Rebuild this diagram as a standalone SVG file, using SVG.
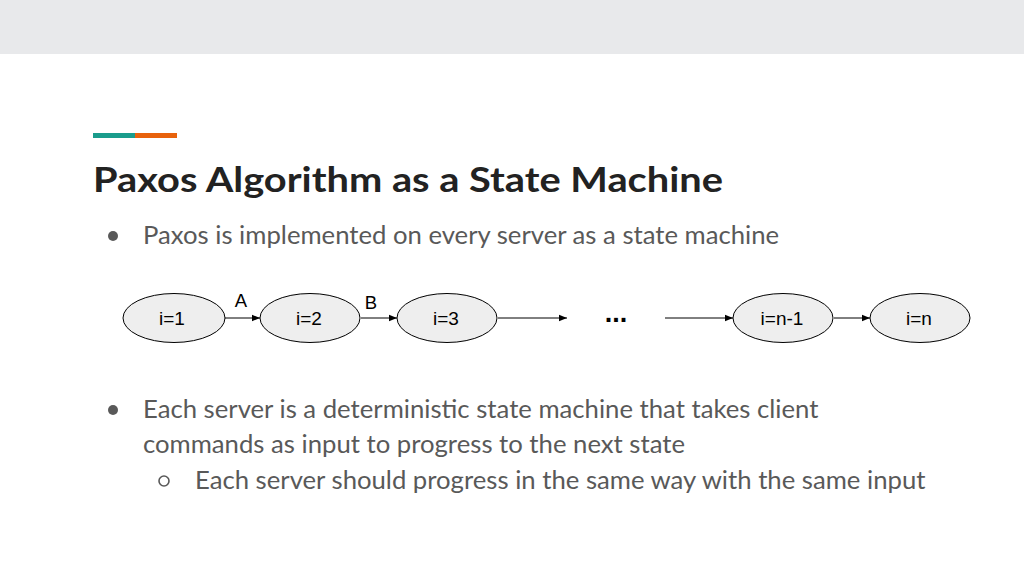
<svg xmlns="http://www.w3.org/2000/svg" width="1024" height="576" viewBox="0 0 1024 576">
<defs>
<marker id="arr" viewBox="0 0 10 10" refX="10" refY="5" markerWidth="9" markerHeight="8" markerUnits="userSpaceOnUse" orient="auto">
<path d="M0,1 L10,5 L0,9 Z" fill="#000"/>
</marker>
<style>
.node ellipse{fill:#eeeeee;stroke:#000;stroke-width:1}
.nt{font-family:"Liberation Sans",Arial,sans-serif;font-size:19px;fill:#000;text-anchor:middle}
.lbl{font-family:"Liberation Sans",Arial,sans-serif;font-size:18.5px;fill:#000;text-anchor:middle}
.body{font-family:Lato,"Open Sans",sans-serif;font-size:25.7px;fill:#595959}
.conn line{stroke:#000;stroke-width:1;marker-end:url(#arr)}
</style>
</defs>
<rect width="1024" height="576" fill="#ffffff"/>
<rect width="1024" height="54" fill="#e8e9eb"/>
<rect x="93" y="133" width="42" height="5" fill="#1a9c8c"/>
<rect x="135" y="133" width="42" height="5" fill="#e8620c"/>
<text x="93" y="192" font-family="Lato,'Open Sans',sans-serif" font-size="35" font-weight="bold" fill="#222" textLength="630" lengthAdjust="spacingAndGlyphs">Paxos Algorithm as a State Machine</text>
<circle cx="113" cy="236" r="5" fill="#595959"/>
<text class="body" x="143" y="244">Paxos is implemented on every server as a state machine</text>
<g id="connectors" class="conn">
<line x1="225" y1="318" x2="260" y2="318"/>
<line x1="361" y1="318" x2="397" y2="318"/>
<line x1="498" y1="318" x2="567" y2="318"/>
<line x1="665" y1="318" x2="733" y2="318"/>
<line x1="834" y1="318" x2="870" y2="318"/>
</g>
<text class="lbl" x="241" y="307">A</text>
<text class="lbl" x="371" y="309">B</text>
<g id="n1" class="node"><ellipse cx="174" cy="318" rx="51" ry="24.5"/><text class="nt" x="172" y="324.5">i=1</text></g>
<g id="n2" class="node"><ellipse cx="310" cy="318" rx="50" ry="24.5"/><text class="nt" x="309" y="324.5">i=2</text></g>
<g id="n3" class="node"><ellipse cx="447" cy="318" rx="50" ry="24.5"/><text class="nt" x="446" y="324.5">i=3</text></g>
<text x="616" y="322" font-family="Liberation Sans,Arial,sans-serif" font-size="27" font-weight="bold" fill="#000" text-anchor="middle">...</text>
<g id="n4" class="node"><ellipse cx="783" cy="318" rx="50" ry="24.5"/><text class="nt" x="782" y="324.5">i=n-1</text></g>
<g id="n5" class="node"><ellipse cx="920" cy="318" rx="50" ry="24.5"/><text class="nt" x="919" y="324.5">i=n</text></g>
<circle cx="113" cy="410" r="5" fill="#595959"/>
<text class="body" x="143" y="418">Each server is a deterministic state machine that takes client</text>
<text class="body" x="143" y="453">commands as input to progress to the next state</text>
<circle cx="164" cy="481" r="5" fill="none" stroke="#595959" stroke-width="1.6"/>
<text class="body" x="195" y="489">Each server should progress in the same way with the same input</text>
</svg>
